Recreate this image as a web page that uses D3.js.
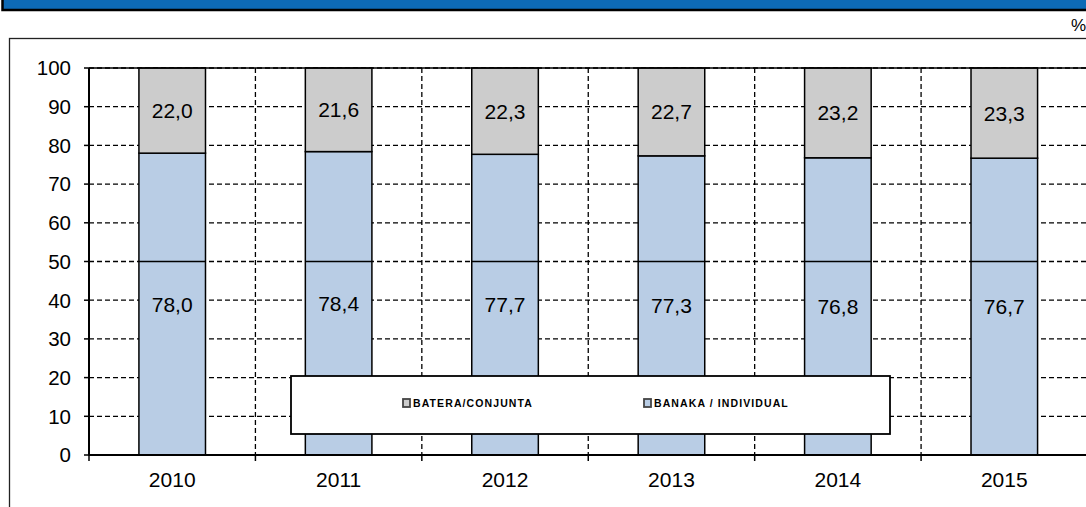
<!DOCTYPE html>
<html><head><meta charset="utf-8">
<script src="https://cdn.jsdelivr.net/npm/d3@7"></script>
<style>body{margin:0;background:#fff;overflow:hidden}svg{display:block}</style>
</head><body>
<script>
const years = ["2010","2011","2012","2013","2014","2015"];
const individual = [78.0, 78.4, 77.7, 77.3, 76.8, 76.7];
const joint = [22.0, 21.6, 22.3, 22.7, 23.2, 23.3];
const yTicks = [0,10,20,30,40,50,60,70,80,90,100];
const seriesNames = ["BATERA/CONJUNTA", "BANAKA / INDIVIDUAL"];
const colors = {individual:"#b9cde5", joint:"#cccccc"};

const W=1086,H=507;
const svg=d3.select("body").append("svg").attr("width",W).attr("height",H);
const font="Liberation Sans, Arial, sans-serif";

// header band
svg.append("rect").attr("x",2.5).attr("y",-3).attr("width",1090).attr("height",13)
  .attr("fill","#0d6ab6").attr("stroke","#000").attr("stroke-width",2.5);
svg.append("text").attr("x",1071).attr("y",31).attr("font-family",font).attr("font-size",17).text("%");
// outer frame
svg.append("rect").attr("x",9.5).attr("y",38.5).attr("width",1100).attr("height",500)
  .attr("fill","none").attr("stroke","#222").attr("stroke-width",1.3);

const x=d3.scaleBand().domain(years).range([89,1087.5]).paddingInner(0.6).paddingOuter(0.3);
const y=d3.scaleLinear().domain([0,100]).range([455,68]);
const step=x.step();
const left=89, right=1087.5;

const data=years.map((yr,i)=>({year:yr,individual:individual[i],joint:joint[i]}));
const stack=d3.stack().keys(["individual","joint"])(data);

// horizontal gridlines
svg.append("g").selectAll("line").data(yTicks.filter(t=>t>0)).join("line")
  .attr("x1",left).attr("x2",right).attr("y1",d=>y(d)).attr("y2",d=>y(d))
  .attr("stroke","#000").attr("stroke-width",1.3).attr("stroke-dasharray","5,3");
// vertical gridlines at band boundaries
const bounds=years.map((d,i)=>left+step*(i+1));
svg.append("g").selectAll("line").data(bounds).join("line")
  .attr("x1",d=>d).attr("x2",d=>d).attr("y1",y(100)).attr("y2",y(0))
  .attr("stroke","#000").attr("stroke-width",1.3).attr("stroke-dasharray","5,3");

// bars
const g=svg.append("g");
stack.forEach(s=>{
  g.append("g").selectAll("rect").data(s).join("rect")
    .attr("x",d=>x(d.data.year)).attr("width",x.bandwidth())
    .attr("y",d=>y(d[1])).attr("height",d=>y(d[0])-y(d[1]))
    .attr("fill",colors[s.key]).attr("stroke","#000").attr("stroke-width",1.5);
});
// solid line at 50 through bars
svg.append("g").selectAll("line").data(years).join("line")
  .attr("x1",d=>x(d)).attr("x2",d=>x(d)+x.bandwidth()).attr("y1",y(50)).attr("y2",y(50))
  .attr("stroke","#000").attr("stroke-width",1.3);

// value labels
stack.forEach(s=>{
  svg.append("g").selectAll("text").data(s).join("text")
    .attr("x",d=>x(d.data.year)+x.bandwidth()/2).attr("y",d=>y((d[0]+d[1])/2)).attr("dy","0.36em")
    .attr("text-anchor","middle").attr("font-family",font).attr("font-size",21)
    .text(d=>d3.format(".1f")(d[1]-d[0]).replace(".",","));
});

// y axis
svg.append("line").attr("x1",left).attr("x2",left).attr("y1",y(100)).attr("y2",y(0)+0.5).attr("stroke","#000").attr("stroke-width",2);
svg.append("line").attr("x1",left).attr("x2",right).attr("y1",y(100)).attr("y2",y(100)).attr("stroke","#000").attr("stroke-width",1.5);
svg.append("g").selectAll("line").data(yTicks).join("line")
  .attr("x1",left-5).attr("x2",left).attr("y1",d=>y(d)).attr("y2",d=>y(d)).attr("stroke","#000").attr("stroke-width",1.5);
svg.append("g").selectAll("text").data(yTicks).join("text")
  .attr("x",71).attr("y",d=>y(d)).attr("dy","0.36em").attr("text-anchor","end")
  .attr("font-family",font).attr("font-size",20.5).text(d=>d);
// x axis
svg.append("line").attr("x1",left).attr("x2",right).attr("y1",y(0)).attr("y2",y(0)).attr("stroke","#000").attr("stroke-width",2);
svg.append("g").selectAll("line").data([left].concat(bounds)).join("line")
  .attr("x1",d=>d).attr("x2",d=>d).attr("y1",y(0)).attr("y2",y(0)+6).attr("stroke","#000").attr("stroke-width",1.5);
svg.append("g").selectAll("text").data(years).join("text")
  .attr("x",d=>x(d)+x.bandwidth()/2).attr("y",479).attr("dy","0.36em").attr("text-anchor","middle")
  .attr("font-family",font).attr("font-size",21).text(d=>d);

// legend
svg.append("rect").attr("x",291).attr("y",376).attr("width",599).attr("height",58)
  .attr("fill","#fff").attr("stroke","#000").attr("stroke-width",1.8);
const legItems=[{name:seriesNames[0],color:colors.joint,x:403},{name:seriesNames[1],color:colors.individual,x:644}];
legItems.forEach(it=>{
  svg.append("rect").attr("x",it.x).attr("y",399).attr("width",7).attr("height",8)
    .attr("fill",it.color).attr("stroke","#444").attr("stroke-width",1.8);
  svg.append("text").attr("x",it.x+10).attr("y",403).attr("dy","0.36em")
    .attr("font-family",font).attr("font-size",10.5).attr("font-weight","bold")
    .attr("letter-spacing","1.1").text(it.name);
});
</script>
</body></html>
